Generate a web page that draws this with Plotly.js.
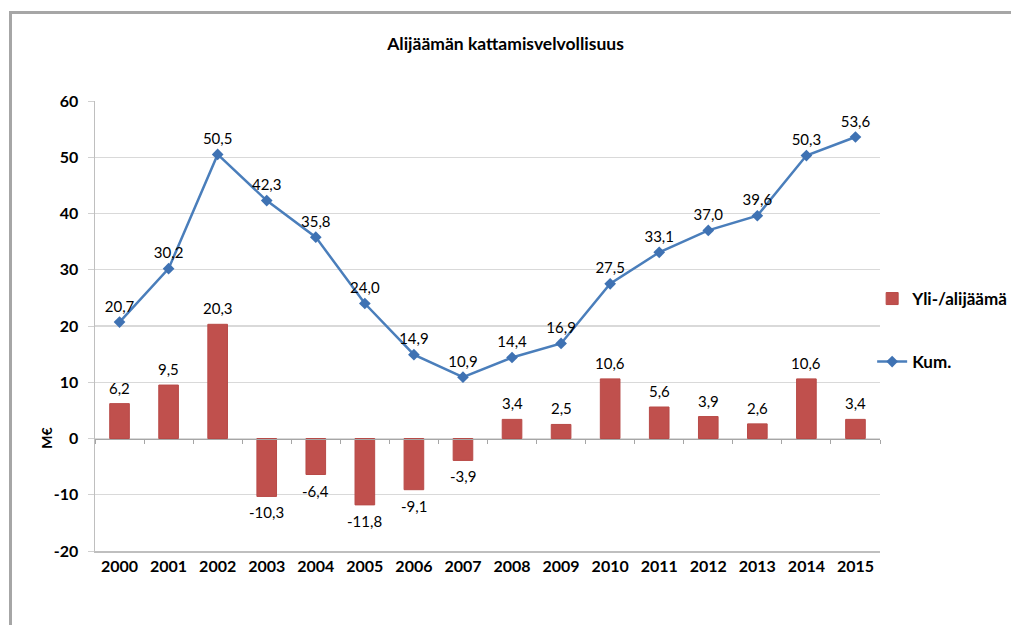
<!DOCTYPE html>
<html>
<head>
<meta charset="utf-8">
<script src="https://cdn.plot.ly/plotly-3.0.1.min.js"></script>
<style>
html,body{margin:0;padding:0;background:#fff;overflow:hidden;}
#frame{position:absolute;left:9px;top:11px;width:1200px;height:800px;border-left:3px solid #a6a6a6;border-top:3px solid #a6a6a6;box-sizing:border-box;}
#chart{position:absolute;left:0;top:0;width:1011px;height:625px;}
</style>
</head>
<body>
<div id="frame"></div>
<div id="chart"></div>
<script>
var years = ['2000','2001','2002','2003','2004','2005','2006','2007','2008','2009','2010','2011','2012','2013','2014','2015'];
var yliAlijaama = [6.2, 9.5, 20.3, -10.3, -6.4, -11.8, -9.1, -3.9, 3.4, 2.5, 10.6, 5.6, 3.9, 2.6, 10.6, 3.4];
var kum = [20.7, 30.2, 50.5, 42.3, 35.8, 24.0, 14.9, 10.9, 14.4, 16.9, 27.5, 33.1, 37.0, 39.6, 50.3, 53.6];
var yTickVals = [-20, -10, 0, 10, 20, 30, 40, 50, 60];
var yTickText = ['-20', '-10', '0', '10', '20', '30', '40', '50', '60'];
var titleText = 'Alijäämän kattamisvelvollisuus';
var yTitle = 'M€';
var barName = 'Yli-/alijäämä';
var lineName = 'Kum.';

function fmt(v){ return v.toFixed(1).replace('.', ','); }

var FONT = 'Lato, "Open Sans", sans-serif';

var barTrace = {
  type: 'bar', x: years, y: yliAlijaama, name: barName,
  xaxis: 'x2', yaxis: 'y',
  marker: {color: '#c0504d', line: {color: '#b84a47', width: 1}},
  legend: 'legend', hoverinfo: 'skip'
};
var lineTrace = {
  type: 'scatter', mode: 'lines+markers+text', x: years, y: kum, name: lineName,
  xaxis: 'x', yaxis: 'y',
  line: {color: '#4a7ebb', width: 2.5},
  marker: {symbol: 'diamond', size: 9, color: '#3f72b3'},
  text: kum.map(fmt), textposition: 'top center',
  textfont: {family: FONT, size: 15, color: '#000'},
  cliponaxis: false,
  legend: 'legend2', hoverinfo: 'skip'
};

var annotations = yliAlijaama.map(function(v, i){
  return {
    x: i, y: v, xref: 'x', yref: 'y', text: fmt(v), showarrow: false,
    yanchor: v >= 0 ? 'bottom' : 'top', yshift: v >= 0 ? 5 : -5,
    font: {family: FONT, size: 15, color: '#000'}
  };
});
annotations.push({
  xref: 'paper', yref: 'y', x: -0.062, y: 0, text: yTitle, textangle: -90,
  showarrow: false, xanchor: 'center', yanchor: 'middle',
  font: {family: FONT, size: 14, color: '#000', weight: 'bold'}
});

var layout = {
  width: 1011, height: 625,
  paper_bgcolor: 'rgba(0,0,0,0)', plot_bgcolor: 'rgba(0,0,0,0)',
  margin: {l: 95, r: 131, t: 101, b: 74, autoexpand: false},
  title: {text: titleText, x: 0.5, xanchor: 'center', y: 0.93, yanchor: 'middle',
    font: {family: FONT, size: 17.5, color: '#000', weight: 'bold'}},
  showlegend: true,
  xaxis: {
    type: 'category', categoryarray: years, range: [-0.5, 15.5],
    showline: true, linecolor: '#bfbfbf', linewidth: 1.5, ticks: '', showgrid: false,
    tickfont: {family: FONT, size: 16, color: '#000', weight: 'bold'},
    zeroline: false, fixedrange: true
  },
  xaxis2: {
    type: 'category', categoryarray: years, range: [-0.5, 15.5],
    overlaying: 'x', anchor: 'free', position: 0.25, side: 'bottom',
    showline: true, linecolor: '#a6a6a6', linewidth: 1.5,
    ticks: 'outside', tickson: 'boundaries', ticklen: 4, tickcolor: '#a6a6a6',
    showticklabels: false, showgrid: false, zeroline: false
  },
  yaxis: {
    range: [-20, 60], tickvals: yTickVals, ticktext: yTickText,
    showline: true, linecolor: '#bfbfbf', linewidth: 1.5,
    ticks: 'outside', ticklen: 6, tickcolor: '#d0d0d0',
    gridcolor: '#d9d9d9', gridwidth: 1.2, zeroline: false,
    tickfont: {family: FONT, size: 16, color: '#000', weight: 'bold'},
    ticklabelstandoff: 6
  },
  bargap: 0.6,
  legend: {x: 0.99, xanchor: 'left', y: 0.56, yanchor: 'middle', bgcolor: 'rgba(0,0,0,0)',
    font: {family: FONT, size: 17, color: '#000', weight: 'bold'}, itemwidth: 30},
  legend2: {x: 0.99, xanchor: 'left', y: 0.42, yanchor: 'middle', bgcolor: 'rgba(0,0,0,0)',
    font: {family: FONT, size: 17, color: '#000', weight: 'bold'}, itemwidth: 30},
  annotations: annotations
};

Plotly.newPlot('chart', [barTrace, lineTrace], layout, {displayModeBar: false, staticPlot: true});
</script>
</body>
</html>
